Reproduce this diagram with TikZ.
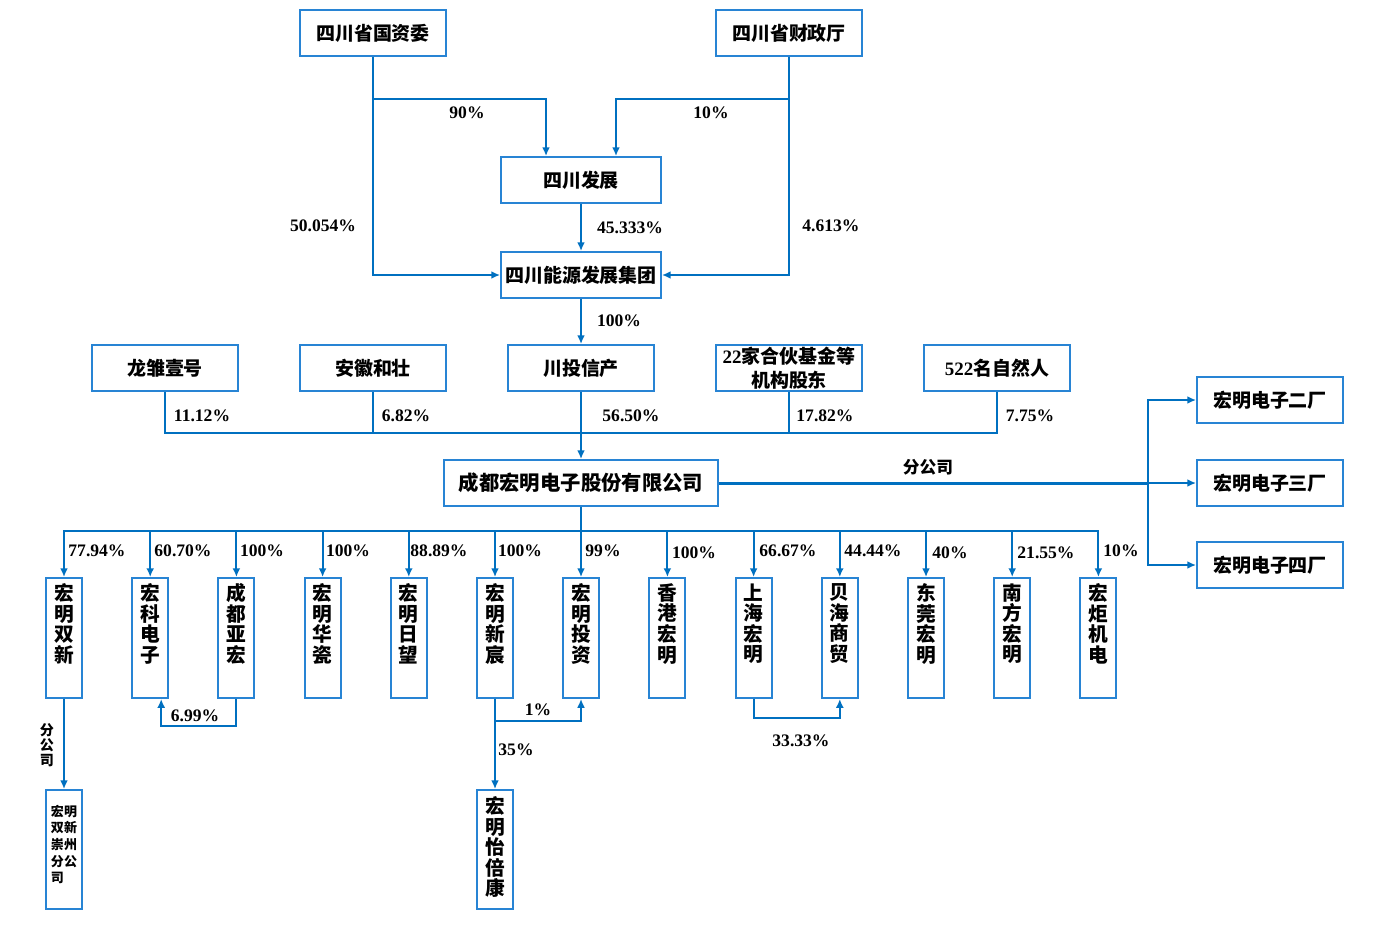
\documentclass[tikz,border=0pt]{standalone}
\usepackage{fontspec}
\setmainfont{Liberation Serif}
\newfontfamily\cjk{Noto Sans CJK SC}
\usetikzlibrary{arrows.meta,positioning}
\definecolor{lineblue}{RGB}{0,112,192}
\definecolor{boxblue}{RGB}{40,132,212}

\begin{document}
\begin{tikzpicture}[x=0.02cm,y=-0.02cm,
		box/.style={draw=boxblue, line width=1.1pt, minimum width=2.92cm, minimum height=0.92cm, inner sep=1pt, align=center, font=\cjk\bfseries\fontsize{10.8}{14}\selectfont},
		vbox/.style={draw=boxblue, line width=1.1pt, minimum width=0.72cm, minimum height=2.4cm, inner sep=0pt},
		vtext/.style={inner sep=0pt, align=center, font=\cjk\bfseries\fontsize{11.2}{11.7}\selectfont},
		link/.style={draw=lineblue, line width=1.1pt},
		arr/.style={link, -{Latex[length=5pt,width=4.5pt]}},
		pct/.style={inner sep=0pt, font=\bfseries\fontsize{10}{12}\selectfont}
	]
	\useasboundingbox (0,0) rectangle (1396,930);
	
	% owners
	\node[box] (gzw) at (373,33) {四川省国资委};
	\node[box] (czt) at (789,33) {四川省财政厅};
	\node[box, minimum width=3.2cm] (scfz) at (581,180) {四川发展};
	\node[box, minimum width=3.2cm] (nyjt) at (581,275) {四川能源发展集团};
	
	\coordinate (gzw-j) at (373,99);
	\coordinate (czt-j) at (789,99);
	\draw[arr] (gzw.south) |- (nyjt.west);
	\draw[arr] (czt.south) |- (nyjt.east);
	\draw[arr] (gzw-j) -| ([xshift=-0.7cm]scfz.north);
	\draw[arr] (czt-j) -| ([xshift=0.7cm]scfz.north);
	\draw[arr] (scfz) -- (nyjt);
	
	\node[pct] (p90) at (467,113) {90\%};
	\node[pct] (p10) at (711,113) {10\%};
	\node[pct] (p50) at (323,226) {50.054\%};
	\node[pct] (p45) at (630,228) {45.333\%};
	\node[pct] (p4) at (831,226) {4.613\%};
	
	% shareholders
	\node[box] (lc) at (165,368) {龙雏壹号};
	\node[box] (ahhz) at (373,368) {安徽和壮};
	\node[box] (ctxc) at (581,368) {川投信产};
	\node[box, inner sep=0pt] (jg22) at (789,368) {\textrm{22}家合伙基金等\\机构股东};
	\node[box] (zrr) at (997,368) {\textrm{522}名自然人};
	\draw[arr] (nyjt) -- (ctxc);
	\node[pct] (p100) at (619,321) {100\%};
	
	\node[box, minimum width=5.48cm, font=\cjk\bfseries\fontsize{11.6}{14}\selectfont] (hmgf) at (581,483) {成都宏明电子股份有限公司};
	
	\coordinate (hub) at (581,433);
	\draw[link] (lc.south) |- (hub) -| (zrr.south);
	\draw[link] (ahhz.south) -- (ahhz.south |- hub);
	\draw[link] (jg22.south) -- (jg22.south |- hub);
	\draw[arr] (ctxc) -- (hmgf);
	
	\node[pct] (p11) at (202,416) {11.12\%};
	\node[pct] (p6) at (406,416) {6.82\%};
	\node[pct] (p56) at (631,416) {56.50\%};
	\node[pct] (p17) at (825,416) {17.82\%};
	\node[pct] (p7) at (1030,416) {7.75\%};
	
	% branch plants
	\node[box] (ec2) at (1270,400) {宏明电子二厂};
	\node[box] (ec3) at (1270,483) {宏明电子三厂};
	\node[box] (ec4) at (1270,565) {宏明电子四厂};
	\coordinate (fgs) at (1148,483);
	\draw[link, line width=1.7pt] (hmgf.east) -- (fgs);
	\draw[arr] (fgs) -- (ec3.west);
	\draw[arr] (fgs) |- (ec2.west);
	\draw[arr] (fgs) |- (ec4.west);
	\node[font=\cjk\bfseries\fontsize{9.5}{11}\selectfont] (fgs-l) at (928,467) {分公司};
	
	% subsidiaries
	\node[vbox] (hmsx) at (64,638) {};
	\node[vbox] (hkdz) at (150.2,638) {};
	\node[vbox] (cdyh) at (236.4,638) {};
	\node[vbox] (hmhc) at (322.6,638) {};
	\node[vbox] (hmrw) at (408.8,638) {};
	\node[vbox] (hmxc) at (495,638) {};
	\node[vbox] (hmtz) at (581,638) {};
	\node[vbox] (xghm) at (667.4,638) {};
	\node[vbox] (shhm) at (753.6,638) {};
	\node[vbox] (bhsm) at (839.8,638) {};
	\node[vbox] (dghm) at (926,638) {};
	\node[vbox] (nfhm) at (1012.2,638) {};
	\node[vbox] (hjjd) at (1098.4,638) {};
	
	\node[vtext, below=3.5pt of hmsx.north] (hmsx-t) {宏\\明\\双\\新};
	\node[vtext, below=3.5pt of hkdz.north] (hkdz-t) {宏\\科\\电\\子};
	\node[vtext, below=3.5pt of cdyh.north] (cdyh-t) {成\\都\\亚\\宏};
	\node[vtext, below=3.5pt of hmhc.north] (hmhc-t) {宏\\明\\华\\瓷};
	\node[vtext, below=3.5pt of hmrw.north] (hmrw-t) {宏\\明\\日\\望};
	\node[vtext, below=3.5pt of hmxc.north] (hmxc-t) {宏\\明\\新\\宸};
	\node[vtext, below=3.5pt of hmtz.north] (hmtz-t) {宏\\明\\投\\资};
	\node[vtext, below=3.5pt of xghm.north] (xghm-t) {香\\港\\宏\\明};
	\node[vtext, below=3.5pt of shhm.north] (shhm-t) {上\\海\\宏\\明};
	\node[vtext, below=3.5pt of bhsm.north] (bhsm-t) {贝\\海\\商\\贸};
	\node[vtext, below=3.5pt of dghm.north] (dghm-t) {东\\莞\\宏\\明};
	\node[vtext, below=3.5pt of nfhm.north] (nfhm-t) {南\\方\\宏\\明};
	\node[vtext, below=3.5pt of hjjd.north] (hjjd-t) {宏\\炬\\机\\电};
	
	\coordinate (bus) at (581,531);
	\draw[link] (hmgf.south) -- (bus);
	\draw[arr] (bus) -| (hmsx);
	\draw[arr] (bus) -| (hkdz);
	\draw[arr] (bus) -| (cdyh);
	\draw[arr] (bus) -| (hmhc);
	\draw[arr] (bus) -| (hmrw);
	\draw[arr] (bus) -| (hmxc);
	\draw[arr] (bus) -- (hmtz);
	\draw[arr] (bus) -| (xghm);
	\draw[arr] (bus) -| (shhm);
	\draw[arr] (bus) -| (bhsm);
	\draw[arr] (bus) -| (dghm);
	\draw[arr] (bus) -| (nfhm);
	\draw[arr] (bus) -| (hjjd);
	
	\node[pct] (q1) at (97,551) {77.94\%};
	\node[pct] (q2) at (183,551) {60.70\%};
	\node[pct] (q3) at (262,551) {100\%};
	\node[pct] (q4) at (348,551) {100\%};
	\node[pct] (q5) at (439,551) {88.89\%};
	\node[pct] (q6) at (520,551) {100\%};
	\node[pct] (q7) at (603,551) {99\%};
	\node[pct] (q8) at (694,553) {100\%};
	\node[pct] (q9) at (788,551) {66.67\%};
	\node[pct] (q10) at (873,551) {44.44\%};
	\node[pct] (q11) at (950,553) {40\%};
	\node[pct] (q12) at (1046,553) {21.55\%};
	\node[pct] (q13) at (1121,551) {10\%};
	
	% lower level
	\node[vbox, minimum height=2.38cm] (hmcz) at (64,849.5) {};
	\node[inner sep=0pt, align=left, font=\cjk\bfseries\fontsize{7.4}{9.4}\selectfont, below=9pt of hmcz.north] (hmcz-t) {宏明\\双新\\崇州\\分公\\司};
	\node[vbox, minimum height=2.38cm] (hmyb) at (495,849.5) {};
	\node[vtext, below=4pt of hmyb.north] (hmyb-t) {宏\\明\\怡\\倍\\康};
	
	\draw[arr] (hmsx) -- (hmcz);
	\node[inner sep=0pt, align=center, font=\cjk\bfseries\fontsize{8}{8.6}\selectfont] (fgs-v) at (47,745) {分\\公\\司};
	
	\draw[arr] (cdyh.south) -- ++(0,27) -| ([xshift=0.22cm]hkdz.south);
	\node[pct] (r1) at (195,716) {6.99\%};
	
	\draw[arr] (hmxc) -- (hmyb);
	\draw[arr] (hmxc.south) -- ++(0,22) -| (hmtz.south);
	\node[pct] (r2) at (538,710) {1\%};
	\node[pct] (r3) at (516,750) {35\%};
	
	\draw[arr] (shhm.south) -- ++(0,19) -| (bhsm.south);
	\node[pct] (r4) at (801,741) {33.33\%};
\end{tikzpicture}
\end{document}
